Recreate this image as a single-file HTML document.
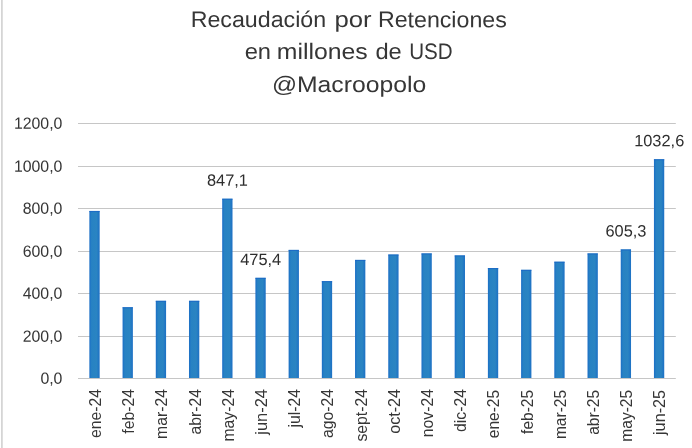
<!DOCTYPE html>
<html lang="es"><head><meta charset="utf-8"><title>Recaudación por Retenciones</title>
<style>
html,body{margin:0;padding:0;background:#fff;}
body{width:692px;height:448px;overflow:hidden;position:relative;font-family:"Liberation Sans",sans-serif;}
svg{display:block;position:absolute;left:0;top:0;}
text{font-family:"Liberation Sans",sans-serif;}
.t{font-size:22.4px;fill:#363636;text-anchor:start;}
.a{font-size:16.2px;fill:#363636;}
.x{font-size:16.5px;fill:#363636;}
.d{font-size:16.4px;fill:#2e2e2e;text-anchor:middle;}
</style></head><body>
<svg width="692" height="448" viewBox="0 0 692 448">
<rect x="0" y="0" width="692" height="448" fill="#ffffff"/>
<defs><linearGradient id="bg" x1="0" y1="0" x2="1" y2="0"><stop offset="0" stop-color="#1b6ec6"/><stop offset="0.22" stop-color="#2782c3"/><stop offset="0.7" stop-color="#2a84c2"/><stop offset="1" stop-color="#1c70c5"/></linearGradient></defs>
<rect x="1" y="0" width="1" height="448" fill="#d5d5d5"/><rect x="2" y="0" width="1" height="448" fill="#dedede"/>

<line x1="78.0" x2="675.8" y1="378.50" y2="378.50" stroke="#c6c6c6" stroke-width="1.15"/>
<line x1="78.0" x2="675.8" y1="336.50" y2="336.50" stroke="#c6c6c6" stroke-width="1.15"/>
<line x1="78.0" x2="675.8" y1="293.50" y2="293.50" stroke="#c6c6c6" stroke-width="1.15"/>
<line x1="78.0" x2="675.8" y1="251.50" y2="251.50" stroke="#c6c6c6" stroke-width="1.15"/>
<line x1="78.0" x2="675.8" y1="208.50" y2="208.50" stroke="#c6c6c6" stroke-width="1.15"/>
<line x1="78.0" x2="675.8" y1="166.50" y2="166.50" stroke="#c6c6c6" stroke-width="1.15"/>
<line x1="78.0" x2="675.8" y1="123.50" y2="123.50" stroke="#c6c6c6" stroke-width="1.15"/>
<text class="a" transform="translate(62.4,383.80) rotate(0.03) scale(0.978,1)" x="0" y="0" text-anchor="end">0,0</text>
<text class="a" transform="translate(62.4,341.80) rotate(0.03) scale(0.978,1)" x="0" y="0" text-anchor="end">200,0</text>
<text class="a" transform="translate(62.4,298.80) rotate(0.03) scale(0.978,1)" x="0" y="0" text-anchor="end">400,0</text>
<text class="a" transform="translate(62.4,256.80) rotate(0.03) scale(0.978,1)" x="0" y="0" text-anchor="end">600,0</text>
<text class="a" transform="translate(62.4,213.80) rotate(0.03) scale(0.978,1)" x="0" y="0" text-anchor="end">800,0</text>
<text class="a" transform="translate(62.4,171.80) rotate(0.03) scale(0.978,1)" x="0" y="0" text-anchor="end">1000,0</text>
<text class="a" transform="translate(62.4,128.80) rotate(0.03) scale(0.978,1)" x="0" y="0" text-anchor="end">1200,0</text>
<rect x="89.36" y="210.95" width="10.3" height="167.05" fill="url(#bg)"/>
<rect x="89.36" y="210.95" width="10.3" height="1.1" fill="#1a66c6" opacity="0.75"/>
<rect x="122.57" y="307.20" width="10.3" height="70.80" fill="url(#bg)"/>
<rect x="122.57" y="307.20" width="10.3" height="1.1" fill="#1a66c6" opacity="0.75"/>
<rect x="155.78" y="300.80" width="10.3" height="77.20" fill="url(#bg)"/>
<rect x="155.78" y="300.80" width="10.3" height="1.1" fill="#1a66c6" opacity="0.75"/>
<rect x="188.99" y="300.80" width="10.3" height="77.20" fill="url(#bg)"/>
<rect x="188.99" y="300.80" width="10.3" height="1.1" fill="#1a66c6" opacity="0.75"/>
<rect x="222.20" y="198.70" width="10.3" height="179.30" fill="url(#bg)"/>
<rect x="222.20" y="198.70" width="10.3" height="1.1" fill="#1a66c6" opacity="0.75"/>
<text class="d" transform="translate(227.45,185.80) rotate(0.03)" x="0" y="0">847,1</text>
<rect x="255.41" y="277.80" width="10.3" height="100.20" fill="url(#bg)"/>
<rect x="255.41" y="277.80" width="10.3" height="1.1" fill="#1a66c6" opacity="0.75"/>
<text class="d" transform="translate(260.66,264.90) rotate(0.03)" x="0" y="0">475,4</text>
<rect x="288.62" y="249.90" width="10.3" height="128.10" fill="url(#bg)"/>
<rect x="288.62" y="249.90" width="10.3" height="1.1" fill="#1a66c6" opacity="0.75"/>
<rect x="321.83" y="281.10" width="10.3" height="96.90" fill="url(#bg)"/>
<rect x="321.83" y="281.10" width="10.3" height="1.1" fill="#1a66c6" opacity="0.75"/>
<rect x="355.04" y="259.90" width="10.3" height="118.10" fill="url(#bg)"/>
<rect x="355.04" y="259.90" width="10.3" height="1.1" fill="#1a66c6" opacity="0.75"/>
<rect x="388.26" y="254.50" width="10.3" height="123.50" fill="url(#bg)"/>
<rect x="388.26" y="254.50" width="10.3" height="1.1" fill="#1a66c6" opacity="0.75"/>
<rect x="421.47" y="253.40" width="10.3" height="124.60" fill="url(#bg)"/>
<rect x="421.47" y="253.40" width="10.3" height="1.1" fill="#1a66c6" opacity="0.75"/>
<rect x="454.68" y="255.40" width="10.3" height="122.60" fill="url(#bg)"/>
<rect x="454.68" y="255.40" width="10.3" height="1.1" fill="#1a66c6" opacity="0.75"/>
<rect x="487.89" y="268.00" width="10.3" height="110.00" fill="url(#bg)"/>
<rect x="487.89" y="268.00" width="10.3" height="1.1" fill="#1a66c6" opacity="0.75"/>
<rect x="521.10" y="269.80" width="10.3" height="108.20" fill="url(#bg)"/>
<rect x="521.10" y="269.80" width="10.3" height="1.1" fill="#1a66c6" opacity="0.75"/>
<rect x="554.31" y="261.70" width="10.3" height="116.30" fill="url(#bg)"/>
<rect x="554.31" y="261.70" width="10.3" height="1.1" fill="#1a66c6" opacity="0.75"/>
<rect x="587.52" y="253.40" width="10.3" height="124.60" fill="url(#bg)"/>
<rect x="587.52" y="253.40" width="10.3" height="1.1" fill="#1a66c6" opacity="0.75"/>
<rect x="620.73" y="249.40" width="10.3" height="128.60" fill="url(#bg)"/>
<rect x="620.73" y="249.40" width="10.3" height="1.1" fill="#1a66c6" opacity="0.75"/>
<text class="d" transform="translate(625.98,236.50) rotate(0.03)" x="0" y="0">605,3</text>
<rect x="653.94" y="159.20" width="10.3" height="218.80" fill="url(#bg)"/>
<rect x="653.94" y="159.20" width="10.3" height="1.1" fill="#1a66c6" opacity="0.75"/>
<text class="d" transform="translate(659.19,146.30) rotate(0.03)" x="0" y="0">1032,6</text>
<text class="x" text-anchor="end" transform="translate(100.90,389.0) rotate(-90) scale(0.955,1)" x="0" y="0">ene-24</text>
<text class="x" text-anchor="end" transform="translate(134.10,389.0) rotate(-90) scale(0.955,1)" x="0" y="0">feb-24</text>
<text class="x" text-anchor="end" transform="translate(167.30,389.0) rotate(-90) scale(0.955,1)" x="0" y="0">mar-24</text>
<text class="x" text-anchor="end" transform="translate(200.50,389.0) rotate(-90) scale(0.955,1)" x="0" y="0">abr-24</text>
<text class="x" text-anchor="end" transform="translate(233.70,389.0) rotate(-90) scale(0.955,1)" x="0" y="0">may-24</text>
<text class="x" text-anchor="end" transform="translate(266.90,389.0) rotate(-90) scale(0.998,1)" x="0" y="0">jun-24</text>
<text class="x" text-anchor="end" transform="translate(300.10,389.0) rotate(-90) scale(0.955,1)" x="0" y="0">jul-24</text>
<text class="x" text-anchor="end" transform="translate(333.30,389.0) rotate(-90) scale(0.955,1)" x="0" y="0">ago-24</text>
<text class="x" text-anchor="end" transform="translate(366.50,389.0) rotate(-90) scale(0.955,1)" x="0" y="0">sept-24</text>
<text class="x" text-anchor="end" transform="translate(399.70,389.0) rotate(-90) scale(0.978,1)" x="0" y="0">oct-24</text>
<text class="x" text-anchor="end" transform="translate(432.90,389.0) rotate(-90) scale(0.955,1)" x="0" y="0">nov-24</text>
<text class="x" text-anchor="end" transform="translate(466.10,389.0) rotate(-90) scale(0.955,1)" x="0" y="0">dic-24</text>
<text class="x" text-anchor="end" transform="translate(499.30,389.9) rotate(-90) scale(0.941,1)" x="0" y="0">ene-25</text>
<text class="x" text-anchor="end" transform="translate(532.50,389.9) rotate(-90) scale(0.941,1)" x="0" y="0">feb-25</text>
<text class="x" text-anchor="end" transform="translate(565.70,389.9) rotate(-90) scale(0.941,1)" x="0" y="0">mar-25</text>
<text class="x" text-anchor="end" transform="translate(598.90,389.9) rotate(-90) scale(0.941,1)" x="0" y="0">abr-25</text>
<text class="x" text-anchor="end" transform="translate(632.10,389.9) rotate(-90) scale(0.941,1)" x="0" y="0">may-25</text>
<text class="x" text-anchor="end" transform="translate(665.30,389.9) rotate(-90) scale(0.983,1)" x="0" y="0">jun-25</text>
<text class="t" transform="translate(349,27.1) rotate(0.03)" y="0"><tspan x="-158.36" textLength="135.48" lengthAdjust="spacingAndGlyphs">Recaudación</tspan> <tspan x="-14.62" textLength="37.15" lengthAdjust="spacingAndGlyphs">por</tspan> <tspan x="28.94" textLength="128.81" lengthAdjust="spacingAndGlyphs">Retenciones</tspan></text>
<text class="t" transform="translate(349,59.05) rotate(0.03)" y="0"><tspan x="-104.36" textLength="26.36" lengthAdjust="spacingAndGlyphs">en</tspan> <tspan x="-72.16" textLength="90.9" lengthAdjust="spacingAndGlyphs">millones</tspan> <tspan x="26.45" textLength="26.32" lengthAdjust="spacingAndGlyphs">de</tspan> <tspan x="60.14" textLength="43.47" lengthAdjust="spacingAndGlyphs">USD</tspan></text>
<text class="t" transform="translate(349,92.0) rotate(0.03)" y="0"><tspan x="-77.09" textLength="154.27" lengthAdjust="spacingAndGlyphs">@Macroopolo</tspan></text>
</svg></body></html>
